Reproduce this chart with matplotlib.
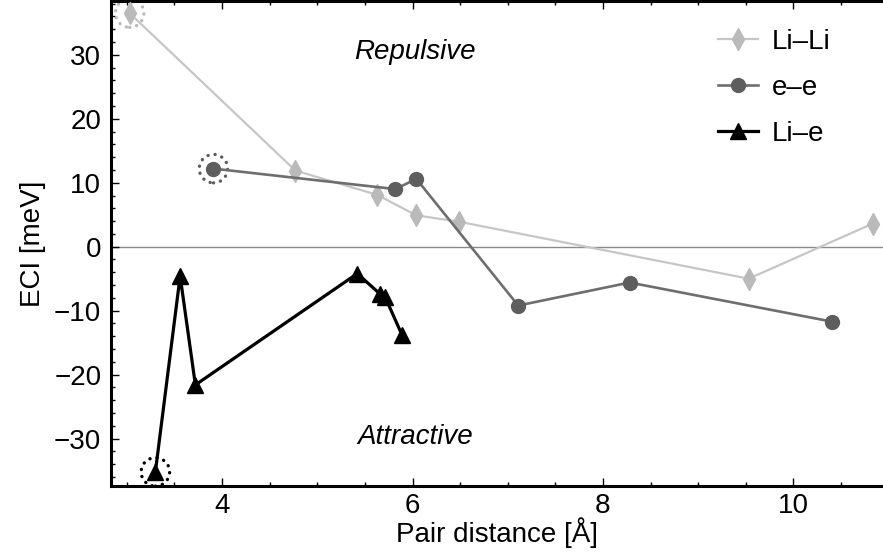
import matplotlib
matplotlib.use('Agg')
import matplotlib.pyplot as plt
from matplotlib.ticker import MultipleLocator

plt.rcParams['font.family'] = ['Liberation Sans', 'DejaVu Sans']

# pair distance [A] and ECI [meV]
lili_x = [3.03, 4.77, 5.63, 6.04, 6.49, 9.53, 10.83]
lili_y = [36.5, 11.9, 8.1, 4.9, 3.9, -5.0, 3.6]
ee_x = [3.91, 5.82, 6.04, 7.11, 8.28, 10.40]
ee_y = [12.2, 9.0, 10.6, -9.2, -5.6, -11.7]
lie_x = [3.30, 3.56, 3.72, 5.42, 5.66, 5.71, 5.89]
lie_y = [-35.2, -4.6, -21.6, -4.2, -7.4, -7.8, -13.8]

series = [
    ('Li\u2013Li', lili_x, lili_y, '#c6c6c6', '#bababa', 'd', 11, 1.6),
    ('e\u2013e', ee_x, ee_y, '#6e6e6e', '#5e5e5e', 'o', 10, 1.9),
    ('Li\u2013e', lie_x, lie_y, '#000000', '#000000', '^', 12, 2.3),
]

fig = plt.figure(figsize=(8.83, 5.56), dpi=100)
ax = fig.add_axes([0.1257, 0.1259, 0.8743, 0.8723])

ax.axhline(0, color='#8a8a8a', lw=1.0, zorder=1)

for name, xs, ys, lc, mc, mk, ms, lw in series:
    ax.plot(xs, ys, color=lc, lw=lw, marker=mk, ms=ms, mfc=mc, mec=mc,
            label=name, zorder=3)
    # dotted ring round the first point of each series
    ring = ax.scatter([xs[0]], [ys[0]], s=420, facecolors='none', edgecolors=mc,
                      linewidths=2.4, linestyles=(0, (0.05, 2.1)), zorder=2)
    ring.set_capstyle('round')

ax.text(6.03, 30.4, 'Repulsive', style='italic', fontsize=20,
        ha='center', va='center')
ax.text(6.03, -29.8, 'Attractive', style='italic', fontsize=20,
        ha='center', va='center')

ax.set_xlim(2.834, 10.94)
ax.set_ylim(-37.4, 38.4)
ax.xaxis.set_major_locator(MultipleLocator(2))
ax.xaxis.set_minor_locator(MultipleLocator(0.5))
ax.yaxis.set_major_locator(MultipleLocator(10))
ax.yaxis.set_minor_locator(MultipleLocator(2))
ax.tick_params(which='both', direction='in', top=True, right=False,
               labelsize=20, width=1.0)
ax.tick_params(axis='x', pad=5)
ax.tick_params(axis='y', pad=7)
ax.tick_params(which='major', length=6)
ax.tick_params(which='minor', length=3)

for s in ['left', 'bottom', 'top']:
    ax.spines[s].set_linewidth(2.2)
ax.spines['right'].set_visible(False)

ax.set_xlabel('Pair distance [\u00c5]', fontsize=20, labelpad=-1)
ax.set_ylabel('ECI [meV]', fontsize=20, labelpad=6)

ax.legend(loc='upper left', bbox_to_anchor=(0.786, 0.942), frameon=False,
          fontsize=20, handlelength=1.45, handletextpad=0.5, labelspacing=0.72,
          borderpad=0, borderaxespad=0)

fig.savefig('out.png', dpi=100)
